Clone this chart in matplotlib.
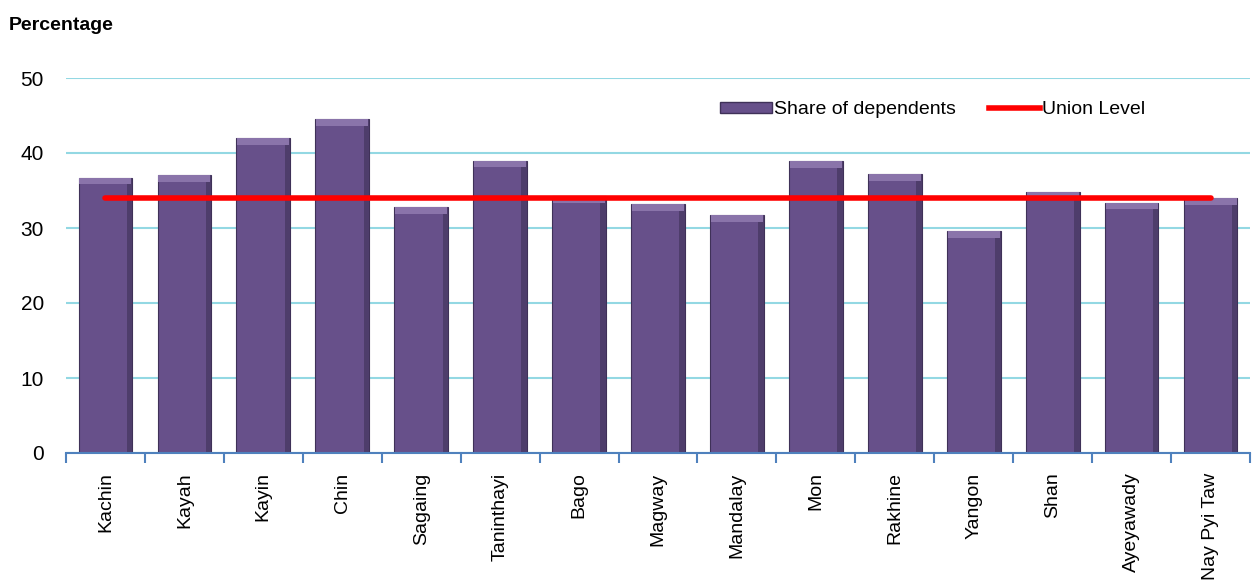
import matplotlib

matplotlib.use("Agg")

import matplotlib.pyplot as plt
import numpy as np
from matplotlib.lines import Line2D
from matplotlib.patches import Patch

plt.rcParams["font.family"] = ["Liberation Sans", "DejaVu Sans"]

REGIONS = [
    "Kachin", "Kayah", "Kayin", "Chin", "Sagaing", "Taninthayi", "Bago", "Magway",
    "Mandalay", "Mon", "Rakhine", "Yangon", "Shan", "Ayeyawady", "Nay Pyi Taw",
]
SHARE_OF_DEPENDENTS = [36.7, 37.1, 42.0, 44.5, 32.8, 39.0, 34.3, 33.2,
                       31.7, 38.9, 37.2, 29.6, 34.8, 33.4, 34.0]
UNION_LEVEL = 34.0

BAR_COLOR = "#67508a"
BEVEL_COLOR = "#8a74aa"
SHADE_COLOR = "#4e3d6b"
EDGE_COLOR = "#3f3158"
GRID_COLOR = "#93d8e3"
AXIS_COLOR = "#4f81bd"

fig = plt.figure(figsize=(12.52, 5.82), dpi=100)
ax = fig.add_axes([66 / 1252, 1 - 453 / 582, 1184 / 1252, 375 / 582])

x = np.arange(len(REGIONS))
heights = np.array(SHARE_OF_DEPENDENTS)
width = 0.68
ax.bar(x, heights, width=width, color=BAR_COLOR, edgecolor=EDGE_COLOR,
       linewidth=0.8, zorder=2)
# darker strip on the right and a lighter cap on top, to mimic the bevel
shade = 0.07
ax.bar(x + width / 2 - shade / 2, heights, width=shade, color=SHADE_COLOR,
       linewidth=0, zorder=2.4)
bevel = 0.9
ax.bar(x, bevel, bottom=heights - bevel, width=width * 0.97,
       color=BEVEL_COLOR, linewidth=0, zorder=2.5)

ax.plot([x[0], x[-1]], [UNION_LEVEL, UNION_LEVEL], color="#ff0000", linewidth=4,
        solid_capstyle="round", zorder=3)

ax.set_xlim(-0.5, len(REGIONS) - 0.5)
ax.set_ylim(0, 50)
ax.set_yticks(range(0, 51, 10))
ax.yaxis.grid(True, color=GRID_COLOR, linewidth=1.5, zorder=0)
ax.set_axisbelow(True)

ax.set_xticks(x)
ax.set_xticklabels(REGIONS, rotation=90, fontsize=14)
ax.tick_params(axis="x", which="major", length=0, pad=14)
ax.set_xticks(np.arange(-0.5, len(REGIONS)), minor=True)
ax.tick_params(axis="x", which="minor", length=7, width=1.5, color=AXIS_COLOR, direction="out")
ax.tick_params(axis="y", length=0, labelsize=15, pad=16)

for side in ("top", "right", "left"):
    ax.spines[side].set_visible(False)
ax.spines["bottom"].set_color(AXIS_COLOR)
ax.spines["bottom"].set_linewidth(1.5)

fig.text(9 / 1252, 1 - 26 / 582, "Percentage", fontsize=14, fontweight="bold", va="center")

handles = [
    Patch(facecolor=BAR_COLOR, edgecolor=EDGE_COLOR, label="Share of dependents"),
    Line2D([0], [0], color="#ff0000", linewidth=4, label="Union Level"),
]
ax.legend(handles=handles, loc="center left", bbox_to_anchor=(0.538, 0.915), ncol=2,
          frameon=False, fontsize=14, handlelength=2.65, handleheight=0.45,
          handletextpad=0.1, columnspacing=1.7)

fig.savefig("out.png", dpi=100)
